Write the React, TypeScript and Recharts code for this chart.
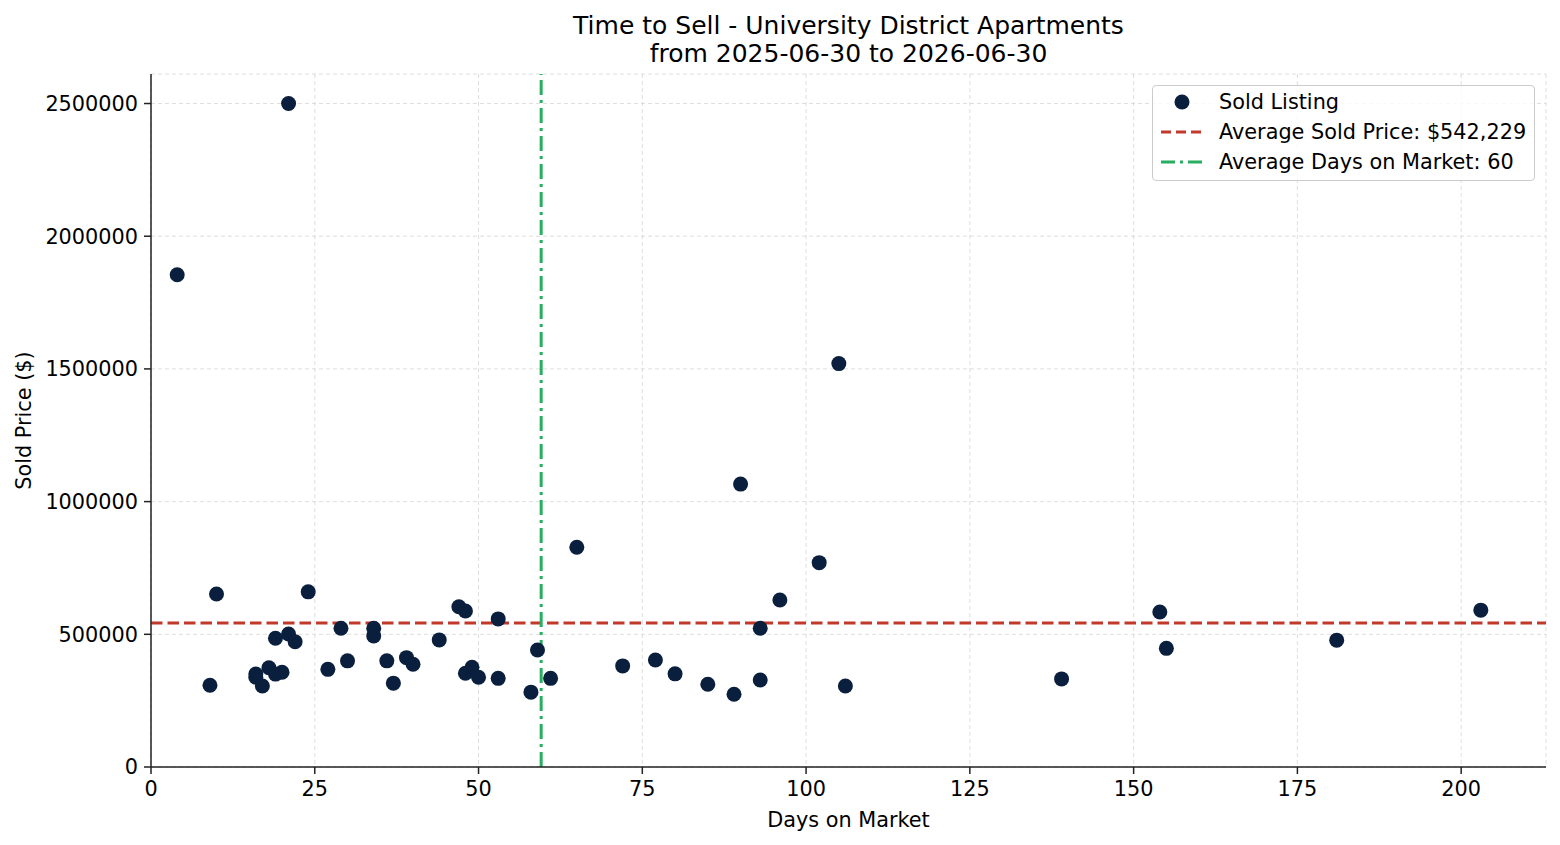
import React from 'react';
import { ScatterChart, Scatter, XAxis, YAxis, CartesianGrid, ReferenceLine } from 'recharts';

const days = [4, 9, 10, 16, 16, 17, 18, 19, 19, 20, 21, 21, 22, 24, 27, 29, 30, 34, 34, 36, 37, 39, 40, 44, 47, 48, 48, 49, 50, 53, 53, 58, 59, 61, 65, 72, 77, 80, 85, 89, 90, 93, 93, 96, 102, 105, 106, 139, 154, 155, 181, 203];
const prices = [1855000, 308000, 652000, 350000, 338000, 305000, 374000, 485000, 350000, 357000, 2500000, 501000, 472000, 660000, 368000, 523000, 400000, 523000, 494000, 400000, 316000, 412000, 387000, 479000, 604000, 588000, 353000, 376000, 338000, 558000, 334000, 282000, 441000, 334000, 828000, 381000, 403000, 351000, 312000, 274000, 1066000, 523000, 328000, 629000, 770000, 1520000, 305000, 332000, 584000, 447000, 478000, 591000];

const xTicks = [0, 25, 50, 75, 100, 125, 150, 175, 200];
const yTicks = [0, 500000, 1000000, 1500000, 2000000, 2500000];

const AVG_PRICE = 542229;
const AVG_DAYS = 59.56;

const titleLines = ['Time to Sell - University District Apartments', 'from 2025-06-30 to 2026-06-30'];
const legendLabels = ['Sold Listing', 'Average Sold Price: $542,229', 'Average Days on Market: 60'];

const data = days.map((d, i) => ({ days: d, price: prices[i] }));

const FONT = '"DejaVu Sans", sans-serif';
const FS = 20.8;
const DOT = '#0a1f3d';
const RED = '#c0392b';
const GREEN = '#27ae60';

const Dot = (props: any) => <circle cx={props.cx} cy={props.cy} r={7.5} fill={DOT} />;

export default function App() {
  return (
    <div style={{ position: 'absolute', left: 0, top: 0, width: 1560, height: 845, background: '#fff', fontFamily: FONT }}>
      <div style={{ position: 'absolute', left: 151, width: 1395, top: 11.5, textAlign: 'center', fontSize: 25, lineHeight: '28px', color: '#000' }}>
        {titleLines.map((t) => (
          <div key={t}>{t}</div>
        ))}
      </div>
      <ScatterChart width={1560} height={845} margin={{ top: 74, right: 14, bottom: 0, left: 0 }}>
        <CartesianGrid stroke="#d6d6d6" strokeDasharray="4 3" strokeWidth={0.8} />
        <XAxis
          type="number"
          dataKey="days"
          domain={[0, 212.95]}
          ticks={xTicks}
          height={78}
          tickSize={7}
          tickMargin={7}
          allowDataOverflow
          stroke="#222"
          strokeWidth={1.5}
          tick={{ fill: '#000', fontSize: FS, fontFamily: FONT }}
          label={{
            content: (p: any) => (
              <text x={p.viewBox.x + p.viewBox.width / 2} y={826.5} textAnchor="middle" fontSize={FS} fontFamily={FONT} fill="#000">
                Days on Market
              </text>
            ),
          }}
        />
        <YAxis
          type="number"
          dataKey="price"
          domain={[0, 2611250]}
          ticks={yTicks}
          width={151}
          tickSize={7}
          tickMargin={6}
          allowDataOverflow
          stroke="#222"
          strokeWidth={1.5}
          tick={{ fill: '#000', fontSize: FS, fontFamily: FONT }}
          label={{
            content: (p: any) => {
              const cx = 30.5;
              const cy = p.viewBox.y + p.viewBox.height / 2;
              return (
                <text x={cx} y={cy} transform={`rotate(-90 ${cx} ${cy})`} textAnchor="middle" fontSize={FS} fontFamily={FONT} fill="#000">
                  Sold Price ($)
                </text>
              );
            },
          }}
        />
        <Scatter name={legendLabels[0]} data={data} fill={DOT} shape={Dot} isAnimationActive={false} />
        <ReferenceLine y={AVG_PRICE} stroke={RED} strokeWidth={3} strokeDasharray="11.5 5" />
        <ReferenceLine x={AVG_DAYS} stroke={GREEN} strokeWidth={3} strokeDasharray="15 5 3 5" />
      </ScatterChart>
      <div
        style={{
          position: 'absolute',
          left: 1152,
          top: 85,
          width: 383,
          height: 96,
          border: '1px solid #cccccc',
          borderRadius: 4,
          background: 'rgba(255,255,255,0.8)',
          boxSizing: 'border-box',
          fontSize: FS,
          color: '#000',
        }}
      >
        {legendLabels.map((lab, i) => (
          <div key={lab} style={{ position: 'absolute', left: 0, top: 3 + i * 30, height: 26, display: 'flex', alignItems: 'center', whiteSpace: 'nowrap' }}>
            <svg width={60} height={26} style={{ marginLeft: 6 }}>
              {i === 0 && <circle cx={23} cy={13} r={7.5} fill={DOT} />}
              {i === 1 && <line x1={2} x2={44} y1={13} y2={13} stroke={RED} strokeWidth={3} strokeDasharray="10 5" />}
              {i === 2 && <line x1={2} x2={44} y1={13} y2={13} stroke={GREEN} strokeWidth={3} strokeDasharray="14 5 3 5" />}
            </svg>
            <span>{lab}</span>
          </div>
        ))}
      </div>
    </div>
  );
}
